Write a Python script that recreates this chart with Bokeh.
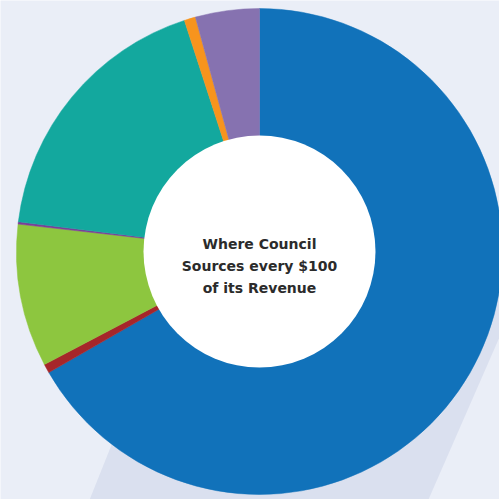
import math
from bokeh.plotting import figure
from bokeh.models import Range1d, ColumnDataSource
from bokeh.core.properties import value
from bokeh.embed import file_html
from bokeh.resources import INLINE

# ---- data (dollars out of every $100 of revenue) ----
segments = ["Segment 1", "Segment 2", "Segment 3", "Segment 4", "Segment 5", "Segment 6", "Segment 7"]
amounts = [66.70, 0.60, 9.50, 0.15, 18.05, 0.75, 4.25]
colors = ["#1172BA", "#A6262A", "#8DC63F", "#7D3C98", "#13A89E", "#F7941D", "#8672B0"]
center_lines = ["Where Council", "Sources every $100", "of its Revenue"]

W = H = 499
BG = "#EAEEF7"
SHADOW = "#DAE0EF"

p = figure(width=W, height=H, x_range=Range1d(0, W), y_range=Range1d(0, H),
           output_backend="svg", toolbar_location=None, min_border=0)
p.axis.visible = False
p.grid.visible = False
p.outline_line_color = None
p.background_fill_color = BG
p.border_fill_color = BG

cx, cy = 259, H - 251
r_out, r_in = 243, 116

# shadow band (decoration) in screen coords converted to data coords
def scr(x, y):
    return x, H - y
sx = [188.8, 536.8, 418.8, 80.8]
sy = [250, 250, 520, 520]
pts = [scr(a, b) for a, b in zip(sx, sy)]
p.patch([q[0] for q in pts], [q[1] for q in pts], fill_color=SHADOW, line_color=None)

total = sum(amounts)
starts, ends = [], []
cum = 0.0
for a in amounts:
    starts.append(math.pi / 2 - cum / total * 2 * math.pi)
    cum += a
    ends.append(math.pi / 2 - cum / total * 2 * math.pi)

src = ColumnDataSource(dict(seg=segments, amt=amounts, color=colors, start=starts, end=ends))
p.annular_wedge(x=cx, y=cy, inner_radius=r_in - 1, outer_radius=r_out,
                start_angle="start", end_angle="end", direction="clock",
                fill_color="color", line_color="color", line_width=0.5, source=src)
p.circle(x=cx, y=cy, radius=r_in, fill_color="white", line_color=None)

baselines = [243.5, 265.2, 287.0]
for txt, b in zip(center_lines, baselines):
    p.text(x=[cx], y=[H - b], text=[txt], text_align="center", text_baseline="alphabetic",
           text_font=value("DejaVu Sans"), text_font_style="bold", text_font_size="14px",
           text_color="#2B2B2B")

open("out.html", "w").write(file_html(p, INLINE))
